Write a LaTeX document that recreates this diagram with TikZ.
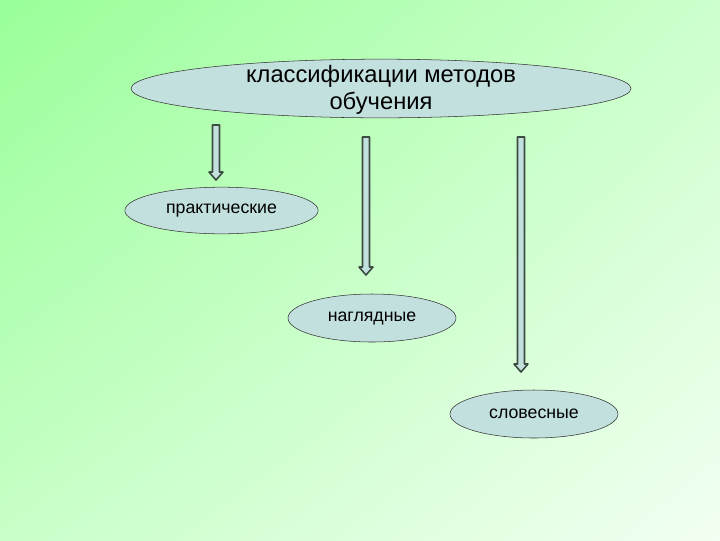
\documentclass[tikz,border=0pt]{standalone}
\usepackage{fontspec}
\setmainfont{Liberation Sans}
\definecolor{fon1}{HTML}{99FF99}
\definecolor{fon2}{HTML}{CCFFCC}
\definecolor{fon3}{HTML}{C8FFC8}
\definecolor{fon4}{HTML}{F2FFF2}
\definecolor{nen}{HTML}{C2E0DE}
\definecolor{vien}{HTML}{3C4C40}
\usetikzlibrary{shapes.geometric,shadings}
\tikzset{
	oval/.style={ellipse, draw=black!80, fill=nen, thin, inner sep=0pt, align=center},
	muiten/.style={draw=vien, fill=nen, line width=1.2pt}
}
\begin{document}
\begin{tikzpicture}[x=0.75pt, y=-0.75pt, line join=round, font=\fontsize{13.3}{16}\selectfont]
	\useasboundingbox (0,0) rectangle (720,540);
	\shade[upper left=fon1, upper right=fon2, lower left=fon3, lower right=fon4] (0,0) rectangle (720,540);
	\node[oval, minimum width=375pt, minimum height=44pt,
		label={[font=\fontsize{17.8}{20.5}\selectfont, align=center, yshift=-1pt]center:классификации методов\\обучения}] (phanloai) at (381,88.5) {};
	\node[oval, minimum width=145pt, minimum height=35pt] (thuchanh) at (221.5,210.5) {практические};
	\node[oval, minimum width=126pt, minimum height=36pt] (tructhuan) at (372,318) {наглядные};
	\node[oval, minimum width=126pt, minimum height=36pt] (loinoi) at (534,414) {словесные};
	% mui ten khoi: x, dau, dinh
	\def\w{3.5}
	\def\h{7}
	\foreach \x/\y/\z in {216/125/180, 366/137/275, 521/137/372}{
		\pgfmathsetmacro\c{\z-8}
		\draw[muiten] (\x-\w,\y) -- (\x+\w,\y) -- (\x+\w,\c) -- (\x+\h,\c) -- (\x,\z) -- (\x-\h,\c) -- (\x-\w,\c) -- cycle;
	}
\end{tikzpicture}
\end{document}
